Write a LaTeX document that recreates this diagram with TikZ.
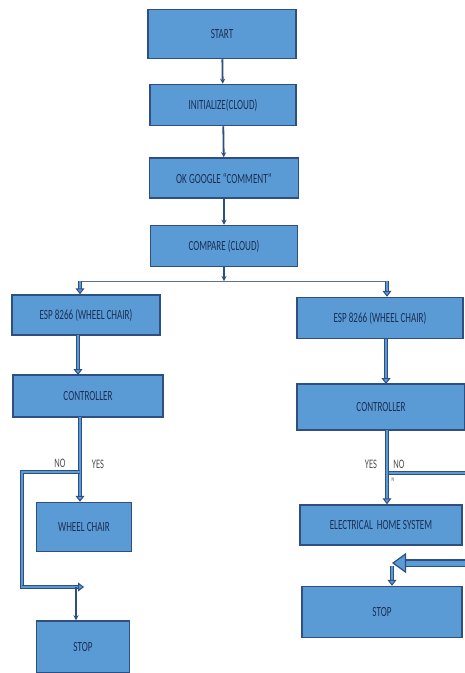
\documentclass[tikz,border=0pt]{standalone}
\usepackage{fontspec}
\usetikzlibrary{arrows.meta}
\newfontfamily\boxfont[FakeStretch=0.65]{Carlito}
\definecolor{boxfill}{HTML}{5B9BD5}
\definecolor{boxline}{HTML}{2F4F80}
\definecolor{boxtext}{HTML}{1A2F55}
\tikzset{
  flowbox/.style={draw=boxline, line width=1.5pt, fill=boxfill, text=boxtext,
    font=\boxfont\fontsize{14}{14}\selectfont, inner sep=0pt},
  thinarrow/.style={draw=boxline, line width=1.8pt, -{Stealth[length=5pt,width=5pt]}},
  thinline/.style={draw=boxline!80, line width=1pt},
  hollow/.style={draw=boxline, line width=1pt, double=boxfill, double distance=2.5pt,
    -{Triangle[open,length=6pt,width=9pt,fill=boxfill]}},
  hollowline/.style={draw=boxline, line width=1pt, double=boxfill, double distance=2.5pt},
  biglabel/.style={text=black!70, font=\boxfont\fontsize{13}{13}\selectfont, inner sep=0pt}
}

\begin{document}
\begin{tikzpicture}[x=1pt, y=-1pt]
\useasboundingbox (0,0) rectangle (465,673);

% main column
\node[flowbox, minimum width=148pt, minimum height=49pt] (start) at (222,34) {START};
\node[flowbox, minimum width=146pt, minimum height=41pt] (init) at (223,105) {INITIALIZE(CLOUD)};
\node[flowbox, minimum width=149pt, minimum height=40pt] (google) at (224,178) {OK GOOGLE “COMMENT”};
\node[flowbox, minimum width=147pt, minimum height=41pt] (compare) at (224,246) {COMPARE (CLOUD)};

% left branch
\node[flowbox, minimum width=148pt, minimum height=40pt] (espL) at (86,315) {ESP 8266 (WHEEL CHAIR)};
\node[flowbox, minimum width=150pt, minimum height=42pt] (ctrlL) at (88,396) {CONTROLLER};
\node[flowbox, minimum width=95pt, minimum height=49pt] (wheel) at (84,527) {WHEEL CHAIR};
\node[flowbox, minimum width=93pt, minimum height=52pt] (stopL) at (83,647) {STOP};

% right branch
\node[flowbox, minimum width=166pt, minimum height=41pt] (espR) at (380,318) {ESP 8266 (WHEEL CHAIR)};
\node[flowbox, minimum width=168pt, minimum height=46pt] (ctrlR) at (381,407) {CONTROLLER};
\node[flowbox, minimum width=162pt, minimum height=40pt] (home) at (381,525) {ELECTRICAL\ \ HOME SYSTEM};
\node[flowbox, minimum width=160pt, minimum height=51pt] (stopR) at (382,612) {STOP};

\draw[thinarrow] (start) -- (init);
\draw[thinarrow] (init) -- (google);
\draw[thinarrow] (google) -- (compare);

% split after compare
\coordinate (split) at (224,281);
\coordinate (splitL) at (80,281);
\coordinate (splitR) at (387,281);
\draw[thinarrow] (compare.south) -- (split);
\draw[thinline] (splitL) -- (splitR);
\draw[hollow] (splitL) -- (splitL |- espL.north);
\draw[hollow] (splitR) -- (splitR |- espR.north);

\draw[hollow] (78,335) -- (78,375);
\draw[hollow] (386,339) -- (386,384);

% left decision
\coordinate (noL) at (80,472);
\coordinate (cornerL) at (22,472);
\coordinate (downL) at (22,587);
\coordinate (backL) at (78,587);
\draw[hollow] (80,417) -- (wheel.north -| 80,0);
\draw[hollowline] (noL) -- (cornerL) -- (downL) -- (backL);
\draw[hollow] (downL) -- (84,587);
\draw[thinarrow, line width=1.2pt] (76,587) -- (stopL.north -| 76,0);
\node[biglabel] (noLtext) at (60,463) {NO};
\node[biglabel] (yesLtext) at (98,464) {YES};

% right decision
\coordinate (noR) at (389,473);
\coordinate (edgeR) at (465,473);
\draw[hollow] (387,430) -- (home.north -| 387,0);
\draw[hollowline] (noR) -- (edgeR);
\node[biglabel] (yesRtext) at (371,464) {YES};
\node[biglabel] (noRtext) at (399,464) {NO};
\node[biglabel, font=\boxfont\fontsize{6}{6}\selectfont] (nRtext) at (393,480) {N};

\coordinate (inR) at (465,563);
\coordinate (turnR) at (392,563);
\draw[draw=boxline, line width=1.2pt, double=boxfill, double distance=5pt,
  -{Triangle[open,length=14pt,width=20pt,fill=boxfill]}] (inR) -- (turnR);
\draw[hollow] (392,566) -- (stopR.north -| 392,0);
\end{tikzpicture}
\end{document}
